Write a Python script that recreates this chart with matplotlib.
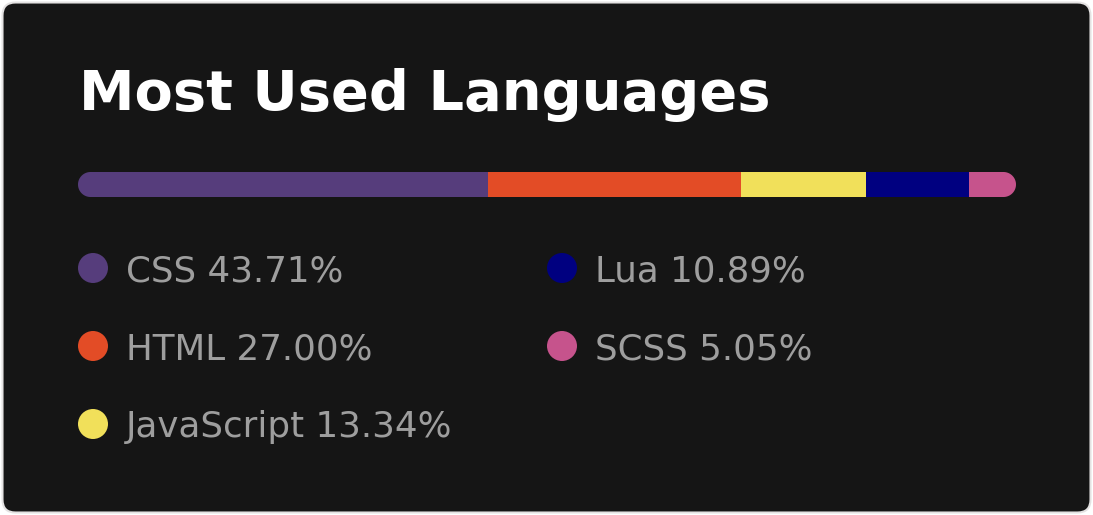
import matplotlib
matplotlib.use("Agg")
import matplotlib.pyplot as plt
from matplotlib.patches import FancyBboxPatch, Circle, PathPatch
from matplotlib.path import Path
import numpy as np

# data
languages = ["CSS", "HTML", "JavaScript", "Lua", "SCSS"]
percents = [43.71, 27.00, 13.34, 10.89, 5.05]
colors = ["#563d7c", "#e34c26", "#f1e05a", "#000080", "#c6538c"]
title = "Most Used Languages"

W, H = 1093, 515
fig = plt.figure(figsize=(W / 100, H / 100), dpi=100)
fig.patch.set_facecolor("white")

# main axes in pixel coordinates (y down)
ax = fig.add_axes([0, 0, 1, 1])
ax.set_xlim(0, W)
ax.set_ylim(H, 0)
ax.axis("off")

card = FancyBboxPatch((2.5, 2.5), W - 5, H - 5,
                      boxstyle="round,pad=0,rounding_size=13",
                      facecolor="#151515", edgecolor="#e4e2e2", linewidth=1.5)
ax.add_patch(card)

ax.text(79, 110, title, color="white", fontsize=40.2, fontweight="bold",
        family="DejaVu Sans", ha="left", va="baseline")

# progress bar
bx0, bx1, by0, by1 = 78, 1016, 172, 197
bar_ax = fig.add_axes([bx0 / W, 1 - by1 / H, (bx1 - bx0) / W, (by1 - by0) / H])
bar_ax.set_xlim(0, sum(percents))
bar_ax.set_ylim(-0.5, 0.5)
bar_ax.axis("off")
bar_ax.patch.set_alpha(0)

# pill shaped clip (semicircle ends)
r = (by1 - by0) / 2
yc = (by0 + by1) / 2
t_right = np.linspace(-np.pi / 2, np.pi / 2, 40)
t_left = np.linspace(np.pi / 2, 3 * np.pi / 2, 40)
xs = np.concatenate([bx1 - r + r * np.cos(t_right), bx0 + r + r * np.cos(t_left)])
ys = np.concatenate([yc + r * np.sin(t_right), yc + r * np.sin(t_left)])
verts = np.column_stack([xs, ys])
verts = np.vstack([verts, verts[:1]])
codes = [Path.MOVETO] + [Path.LINETO] * (len(verts) - 2) + [Path.CLOSEPOLY]
clip = PathPatch(Path(verts, codes), transform=ax.transData,
                 facecolor="none", edgecolor="none")
ax.add_patch(clip)

lefts = np.concatenate([[0], np.cumsum(percents)[:-1]])
bars = bar_ax.barh(0, percents, left=lefts, height=1.0, color=colors, linewidth=0)
for b in bars:
    b.set_clip_path(clip)

# legend
col_x = [93, 562]
row_y = [268, 346, 424]
for i, (lang, p, c) in enumerate(zip(languages, percents, colors)):
    cx = col_x[i // 3]
    cy = row_y[i % 3]
    ax.add_patch(Circle((cx, cy), 15, facecolor=c, edgecolor="none"))
    ax.text(cx + 33, cy + 13.5, f"{lang} {p:.2f}%", color="#9e9e9e",
            fontsize=25.7, family="DejaVu Sans", ha="left", va="baseline")

fig.savefig("out.png", dpi=100, facecolor=fig.get_facecolor())
